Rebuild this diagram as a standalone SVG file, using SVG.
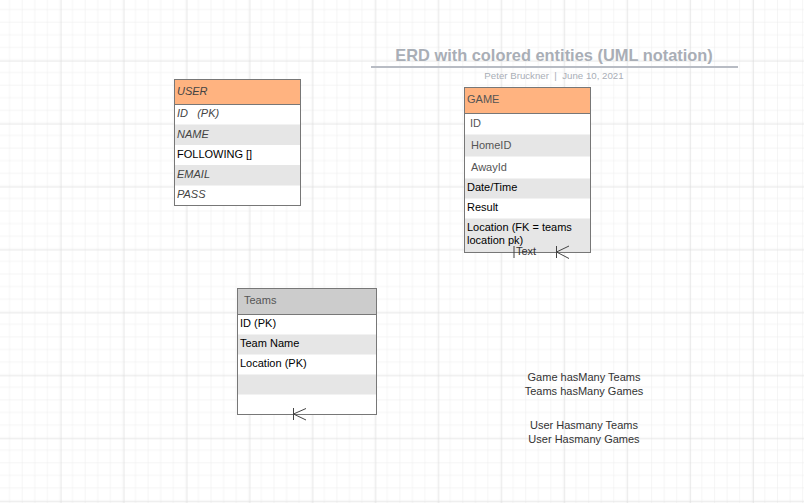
<svg xmlns="http://www.w3.org/2000/svg" width="804" height="503" viewBox="0 0 804 503">
<style>
.t{font-family:"Liberation Sans",Arial,sans-serif;font-size:11px;fill:#333;white-space:pre}
.i{font-style:italic;fill:#444}
.k{fill:#000}
.g{fill:#555}
.box{fill:none;stroke:#777;stroke-width:1}
.hdr{fill:#FFB380}
.alt{fill:#E6E6E6}
.ln{stroke:#444;stroke-width:1;fill:none}
</style>
<defs>
<pattern id="minor" x="-1.25" y="-1.25" width="12.59" height="12.59" patternUnits="userSpaceOnUse">
<path d="M12.59 0V12.59M0 12.59H12.59" stroke="#EBEBEB" stroke-width="1" fill="none"/>
</pattern>
<pattern id="major" x="-1.25" y="-1.25" width="62.94" height="62.94" patternUnits="userSpaceOnUse">
<rect width="62.94" height="62.94" fill="url(#minor)"/>
<path d="M62.94 0V62.94M0 62.94H62.94" stroke="#DADADA" stroke-width="1" fill="none"/>
</pattern>
</defs>
<rect width="804" height="503" fill="#fff"/>
<rect width="804" height="503" fill="url(#major)"/>

<g id="title">
<text x="554" y="61" text-anchor="middle" style="font-family:'Liberation Sans',Arial,sans-serif;font-size:16.4px;font-weight:bold;fill:#A9AEB6">ERD with colored entities (UML notation)</text>
<line x1="371" y1="67" x2="738" y2="67" stroke="#B8BCC4" stroke-width="2"/>
<text x="554" y="79" text-anchor="middle" style="font-family:'Liberation Sans',Arial,sans-serif;font-size:9.7px;fill:#A9AEB6;white-space:pre">Peter Bruckner  |  June 10, 2021</text>
</g>

<g id="user">
<rect x="174.5" y="79.5" width="126" height="126" fill="#fff"/>
<rect x="174.5" y="79.5" width="126" height="25" class="hdr"/>
<rect x="174.5" y="124.5" width="126" height="20.5" class="alt"/>
<rect x="174.5" y="165" width="126" height="20.5" class="alt"/>
<line x1="174.5" y1="104.5" x2="300.5" y2="104.5" stroke="#777"/>
<rect x="174.5" y="79.5" width="126" height="126" class="box"/>
<text x="177" y="95" class="t i">USER</text>
<text x="177" y="117" class="t i">ID   (PK)</text>
<text x="177" y="138" class="t i">NAME</text>
<text x="177" y="158" class="t k">FOLLOWING []</text>
<text x="177" y="178" class="t i">EMAIL</text>
<text x="177" y="198" class="t i">PASS</text>
</g>

<g id="game">
<rect x="464.5" y="87.5" width="126" height="165" fill="#fff"/>
<rect x="464.5" y="87.5" width="126" height="26" class="hdr"/>
<rect x="464.5" y="134.5" width="126" height="22" class="alt"/>
<rect x="464.5" y="178.5" width="126" height="20" class="alt"/>
<rect x="464.5" y="218.5" width="126" height="34" class="alt"/>
<line x1="464.5" y1="113.5" x2="590.5" y2="113.5" stroke="#777"/>
<rect x="464.5" y="87.5" width="126" height="165" class="box"/>
<text x="467" y="103" class="t g">GAME</text>
<text x="470" y="127" class="t g">ID</text>
<text x="471" y="149" class="t g">HomeID</text>
<text x="471" y="171" class="t g">AwayId</text>
<text x="467" y="191" class="t k">Date/Time</text>
<text x="467" y="211" class="t k">Result</text>
<text x="467" y="231" class="t k">Location (FK = teams</text>
<text x="467" y="244" class="t k">location pk)</text>
</g>

<g id="teams">
<rect x="237.5" y="288.5" width="139" height="126" fill="#fff"/>
<rect x="237.5" y="288.5" width="139" height="26" fill="#CCCCCC"/>
<rect x="237.5" y="334.5" width="139" height="20" class="alt"/>
<rect x="237.5" y="374.5" width="139" height="20" class="alt"/>
<line x1="237.5" y1="314.5" x2="376.5" y2="314.5" stroke="#777"/>
<rect x="237.5" y="288.5" width="139" height="126" class="box"/>
<text x="244" y="304" class="t g">Teams</text>
<text x="240" y="327" class="t k">ID (PK)</text>
<text x="240" y="347" class="t k">Team Name</text>
<text x="240" y="367" class="t k">Location (PK)</text>
</g>

<g id="connectors">
<line x1="514" y1="246" x2="514" y2="258" class="ln"/>
<text x="516" y="255" class="t">Text</text>
<path d="M556.5 246V258M556.5 252L569 246M556.5 252L569 258.5" class="ln"/>
<path d="M293.5 408V420M293.5 414L306 408.5M293.5 414L306 420" class="ln"/>
</g>

<g id="notes">
<text x="584" y="381" text-anchor="middle" class="t">Game hasMany Teams</text>
<text x="584" y="395" text-anchor="middle" class="t">Teams hasMany Games</text>
<text x="584" y="429" text-anchor="middle" class="t">User Hasmany Teams</text>
<text x="584" y="443" text-anchor="middle" class="t">User Hasmany Games</text>
</g>
</svg>
